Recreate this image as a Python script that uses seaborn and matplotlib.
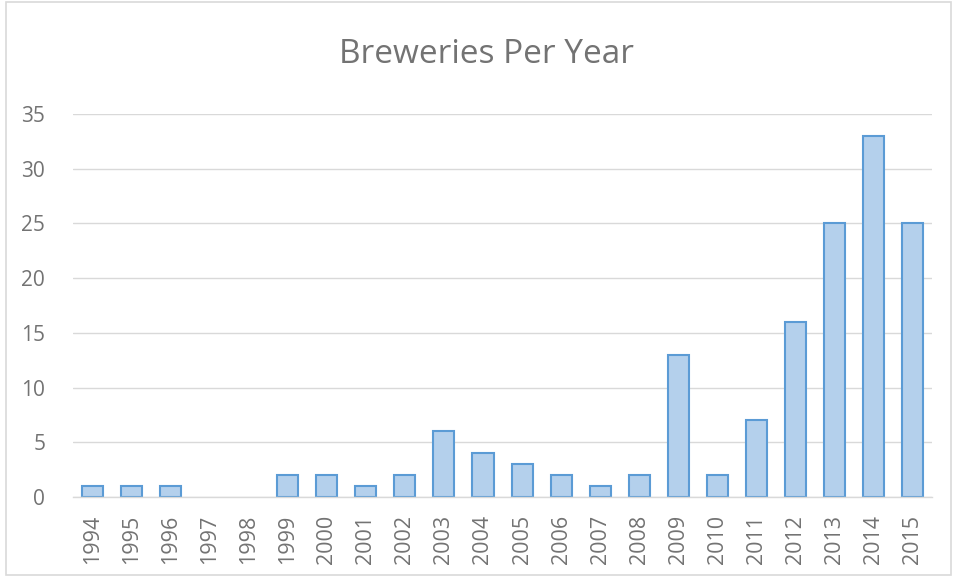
"""Breweries per year bar chart, Excel style."""

import matplotlib.pyplot as plt
import pandas as pd
import seaborn as sns
from matplotlib.patches import Rectangle

years = ["1994", "1995", "1996", "1997", "1998", "1999", "2000", "2001",
         "2002", "2003", "2004", "2005", "2006", "2007", "2008", "2009",
         "2010", "2011", "2012", "2013", "2014", "2015"]
breweries = [1, 1, 1, 0, 0, 2, 2, 1, 2, 6, 4, 3, 2, 1, 2, 13, 2, 7, 16, 25, 33, 25]
y_ticks = [0, 5, 10, 15, 20, 25, 30, 35]

df = pd.DataFrame({"Year": years, "Breweries": breweries})

sns.set_style("white")
plt.rcParams["font.family"] = ["Open Sans", "DejaVu Sans"]

fig = plt.figure(figsize=(9.55, 5.77), dpi=100)
ax = fig.add_axes([0.0764, 0.1386, 0.8996, 0.6638])

sns.barplot(
    data=df, x="Year", y="Breweries", ax=ax,
    color="#B4D0EC", edgecolor="#5B9BD5", linewidth=1.5, width=0.54,
    saturation=1,
)
# Excel draws nothing for empty years
for bar in ax.patches:
    if bar.get_height() == 0:
        bar.set_visible(False)

ax.set_ylim(0, 35)
ax.set_xlim(-0.5, len(years) - 0.5)
ax.set_yticks(y_ticks)
ax.yaxis.grid(True, color="#D9D9D9", linewidth=1)
ax.set_axisbelow(True)
for side in ["top", "right", "left"]:
    ax.spines[side].set_visible(False)
ax.spines["bottom"].set_color("#D9D9D9")
ax.spines["bottom"].set_linewidth(1)
ax.tick_params(axis="x", rotation=90, labelsize=15.5, colors="#737373", length=0, pad=13)
ax.tick_params(axis="y", labelsize=15, colors="#737373", length=0, pad=20)
ax.set_xlabel("")
ax.set_ylabel("")

fig.text(0.509, 0.905, "Breweries Per Year", ha="center", va="center",
         fontsize=24, color="#737373")
fig.patches.append(Rectangle((0.006, 0.003), 0.99, 0.994, transform=fig.transFigure,
                             fill=False, edgecolor="#D9D9D9", linewidth=1.2))

fig.savefig("out.png", dpi=100)
